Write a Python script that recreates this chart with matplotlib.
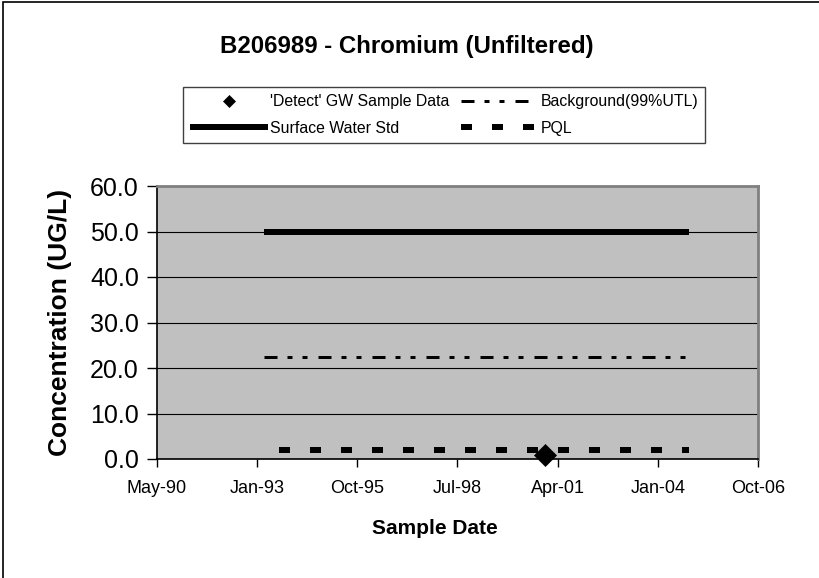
import matplotlib
matplotlib.use("Agg")
import matplotlib.pyplot as plt
import matplotlib.dates as mdates
from matplotlib.patches import Rectangle
import pandas as pd

plt.rcParams['font.family'] = ['Liberation Sans', 'DejaVu Sans']
plt.rcParams['lines.scale_dashes'] = False

# ---- data ----
title = "B206989 - Chromium (Unfiltered)"
detect_dates = ["2000-12-14"]
detect_vals = [0.9]
surface_dates = ["1993-04-09", "2004-11-21"]
surface_vals = [50.0, 50.0]
background_dates = ["1993-04-09", "2004-11-21"]
background_vals = [22.5, 22.5]
pql_dates = ["1993-09-10", "2004-11-21"]
pql_vals = [2.0, 2.0]
x_tick_serials = [33000, 34000, 35000, 36000, 37000, 38000, 39000]  # Excel date serials
x_tick_labels = ["May-90", "Jan-93", "Oct-95", "Jul-98", "Apr-01", "Jan-04", "Oct-06"]
y_ticks = [0, 10, 20, 30, 40, 50, 60]
y_tick_labels = ["0.0", "10.0", "20.0", "30.0", "40.0", "50.0", "60.0"]

excel_epoch = pd.Timestamp("1899-12-30")
x_ticks = [mdates.date2num(excel_epoch + pd.Timedelta(days=s)) for s in x_tick_serials]

def d(lst):
    return [mdates.date2num(pd.Timestamp(s)) for s in lst]

W, H = 820, 578
fig = plt.figure(figsize=(W / 100, H / 100), dpi=100)
fig.patch.set_facecolor('white')

ax = fig.add_axes([157 / W, 1 - 459 / H, (758 - 157) / W, (459 - 186) / H])
ax.set_facecolor('#C0C0C0')

ax.grid(axis='y', color='black', linewidth=0.8, zorder=1)
ax.set_axisbelow(True)

px = 0.72  # px -> pt at 100 dpi
l_surf, = ax.plot(d(surface_dates), surface_vals, color='black', linewidth=6 * px,
                  solid_capstyle='butt', zorder=3, label='Surface Water Std')
l_bg, = ax.plot(d(background_dates), background_vals, color='black', linewidth=3 * px,
                linestyle=(0, (13 * px, 10 * px, 5 * px, 10 * px, 5 * px, 11 * px)),
                dash_capstyle='butt', zorder=3, label='Background(99%UTL)')
l_pql, = ax.plot(d(pql_dates), pql_vals, color='black', linewidth=6 * px,
                 linestyle=(0, (11 * px, 20 * px)), dash_capstyle='butt', zorder=3, label='PQL')
l_det, = ax.plot(d(detect_dates), detect_vals, linestyle='none', marker='D', markersize=11.5,
                 color='black', markeredgewidth=0.5, zorder=4, clip_on=False,
                 label="'Detect' GW Sample Data")

ax.set_xlim(x_ticks[0], x_ticks[-1])
ax.set_ylim(0, 60)
ax.set_xticks(x_ticks)
ax.set_xticklabels(x_tick_labels, fontsize=13)
ax.set_yticks(y_ticks)
ax.set_yticklabels(y_tick_labels, fontsize=18)
ax.tick_params(axis='x', direction='out', length=6, width=1, pad=9, colors='black')
ax.tick_params(axis='y', direction='out', length=7, width=1, pad=6, colors='black')

for s in ['left', 'bottom']:
    ax.spines[s].set_color('black')
    ax.spines[s].set_linewidth(1.2)
for s in ['top', 'right']:
    ax.spines[s].set_color('#808080')
    ax.spines[s].set_linewidth(2)

fig.text(407 / W, 1 - 47 / H, title, ha='center', va='center', fontsize=17.3, fontweight='bold')
fig.text(435 / W, 1 - 528 / H, "Sample Date", ha='center', va='center', fontsize=15, fontweight='bold')
fig.text(60 / W, 1 - 322 / H, "Concentration (UG/L)", ha='center', va='center', rotation=90,
         fontsize=19, fontweight='bold')

leg = fig.legend(handles=[l_det, l_surf, l_bg, l_pql], ncol=2,
                 loc='upper left', bbox_to_anchor=(183 / W, 1 - 87 / H),
                 fontsize=11.4, frameon=True, fancybox=False, edgecolor='#404040',
                 framealpha=1, handlelength=4.9, handletextpad=0.15, columnspacing=0.7,
                 labelspacing=0.75, borderpad=0.45, borderaxespad=0, markerscale=0.5)
leg.get_frame().set_linewidth(1.0)

fig.patches.append(Rectangle((3 / W, -0.05), 1.2, 1 - 1.5 / H + 0.05, transform=fig.transFigure,
                             fill=False, edgecolor='black', linewidth=1.2))

fig.savefig("out.png", dpi=100)
